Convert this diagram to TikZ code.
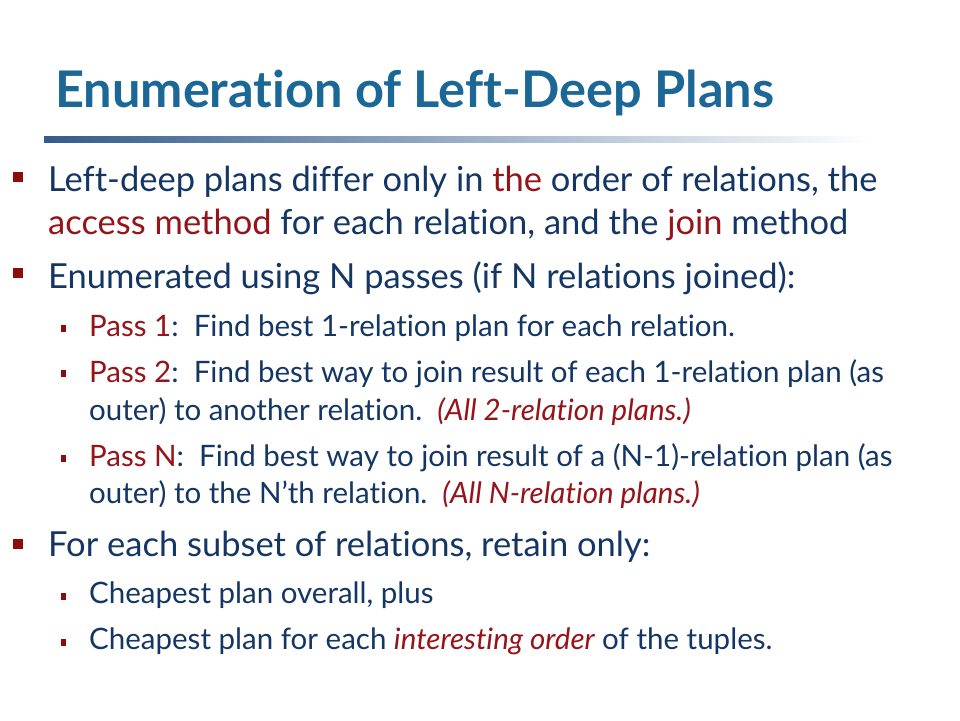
\documentclass[tikz,border=0pt]{standalone}
\usepackage{fontspec}
\setmainfont{Lato}[Ligatures={NoCommon}]
\definecolor{titleblue}{RGB}{27,103,150}
\definecolor{textnavy}{RGB}{20,54,101}
\definecolor{hilite}{RGB}{150,20,25}
\definecolor{bulletred}{RGB}{140,12,12}
\definecolor{rulecol}{RGB}{50,92,140}
\tikzset{
  bodyline/.style={anchor=base west, inner sep=0pt, text=textnavy, font=\fontsize{34.5}{40}\selectfont},
  subline/.style={bodyline, font=\fontsize{29.5}{35}\selectfont},
  bigbullet/.style={fill=bulletred, minimum width=10pt, minimum height=10pt, inner sep=0pt},
  smallbullet/.style={fill=bulletred, minimum width=5pt, minimum height=7pt, inner sep=0pt},
}
\newcommand{\hl}[1]{\textcolor{hilite}{#1}}
\begin{document}
\begin{tikzpicture}[x=1pt,y=-1pt]
      \useasboundingbox (0,0) rectangle (960,720);
      \fill[white] (0,0) rectangle (960,720);
      \node[anchor=base west, inner sep=0pt, text=titleblue, font=\fontsize{50.5}{56}\selectfont\bfseries]
        (title) at (55,107) {Enumeration of Left-Deep Plans};
      \shade[left color=rulecol, right color=white] (44,136) rectangle (870,142);
      % first bullet
      \node[bigbullet] (b1) at (18,177) {};
      \node[bodyline] (l1) at (48,191) {Left-deep plans differ only in \hl{the} order of relations, the};
      \node[bodyline] (l2) at (48,234) {\hl{access method} for each relation, and the \hl{join} method};
      % second bullet
      \node[bigbullet] (b2) at (18,272.5) {};
      \node[bodyline] (l3) at (48,288) {Enumerated using N passes (if N relations joined):};
      \node[smallbullet] (s1) at (63.5,328.5) {};
      \node[subline] (p1) at (89,336) {\hl{Pass 1}:\ \ Find best 1-relation plan for each relation.};
      \node[smallbullet] (s2) at (63.5,373.5) {};
      \node[subline] (p2) at (89,382) {\hl{Pass 2}:\ \ Find best way to join result of each 1-relation plan (as};
      \node[subline] (p2b) at (89,420) {outer) to another relation.\ \ \hl{\itshape (All 2-relation plans.)}};
      \node[smallbullet] (s3) at (63.5,458.5) {};
      \node[subline] (pn) at (89,466) {\hl{Pass N}:\ \ Find best way to join result of a (N-1)-relation plan (as};
      \node[subline] (pnb) at (89,503) {outer) to the N’th relation.\ \ \hl{\itshape (All N-relation plans.)}};
      % third bullet
      \node[bigbullet] (b3) at (18,543.5) {};
      \node[bodyline] (l4) at (48,556) {For each subset of relations, retain only:};
      \node[smallbullet] (c1) at (63.5,596.5) {};
      \node[subline] (r1) at (89,603) {Cheapest plan overall, plus};
      \node[smallbullet] (c2) at (63.5,642.5) {};
      \node[subline] (r2) at (89,649) {Cheapest plan for each \hl{\itshape interesting order} of the tuples.};
    \end{tikzpicture}
\end{document}
